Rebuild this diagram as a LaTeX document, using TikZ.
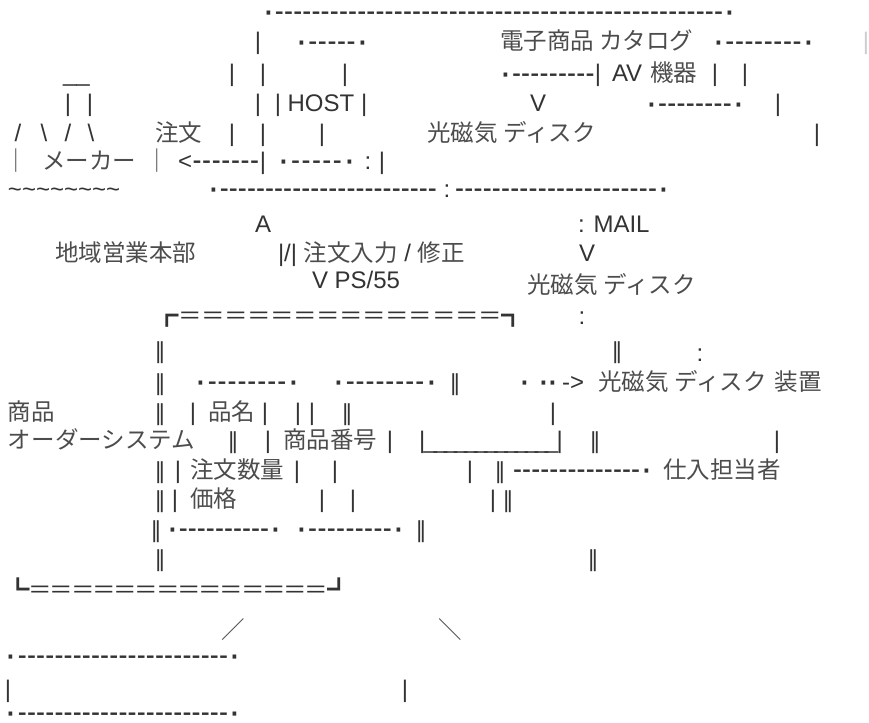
\documentclass[tikz,border=0pt]{standalone}
\usepackage{fontspec}
\setmainfont{Liberation Sans}
\newfontfamily\jp{Noto Sans CJK JP}
\newfontfamily\dv{DejaVu Sans}
\definecolor{ink}{gray}{0.2}
\definecolor{inkj}{gray}{0.3}
\newcommand\lat{\fontsize{24}{28}\selectfont}
\newcommand\jpf{\jp\fontsize{23.5}{28}\selectfont}
\newcommand\dvf{\dv\fontsize{22}{26}\selectfont}
\newcommand\dsh{\hbox to 9pt{\hss\raisebox{-1.8pt}{\scalebox{1.12}[1.3]{-}}\hss}}
\newcommand\dt{\raisebox{-3.2pt}{\scalebox{1.6}{·}}}
\newcommand\mydrun[1]{\hbox to #1pt{\dt\xleaders\dsh\hfill\dt}}
\newcommand\mylrun[1]{\hbox to #1pt{\xleaders\dsh\hfill\dt}}
\newcommand\myrrun[1]{\hbox to #1pt{\dt\xleaders\dsh\hfill}}
\newcommand\myarun[1]{\hbox to #1pt{<\xleaders\dsh\hfill|}}
\newcommand\mybrun[1]{\hbox to #1pt{\dt\xleaders\dsh\hfill|}}
\newcommand\myurun[1]{\hbox to #1pt{|\xleaders\hbox to 10pt{\hss\textunderscore\hss}\hfill|}}
\newcommand\myeqtop{\hbox to 370pt{┏\xleaders\hbox to 23pt{\hss＝\hss}\hfill┓}}
\newcommand\myeqbot{\hbox to 345pt{┗\xleaders\hbox to 21pt{\hss＝\hss}\hfill┛}}
\tikzset{
  tb/.style={inner sep=0pt, outer sep=0pt},
  L/.style={tb, anchor=base west, font=\lat, text=ink},
  Lc/.style={tb, anchor=base, font=\lat, text=ink},
  J/.style={tb, anchor=base west, font=\jpf, text=inkj},
  Jc/.style={tb, anchor=base, font=\jpf, text=inkj},
  D/.style={tb, anchor=base, font=\dvf, text=ink},
}
\begin{document}
\begin{tikzpicture}[x=1pt,y=-1pt]
\useasboundingbox (0,0) rectangle (869,722);
% row 1
\node[L] (r1) at (262,20) {\mydrun{474}};
% row 2
\node[Lc] (r2a) at (258,50) {|};
\node[L] (r2b) at (295,50) {\mydrun{74}};
\node[J] (r2c) at (500,50) {電子商品 カタログ};
\node[L] (r2d) at (712,50) {\mydrun{103}};
\node[Lc,text=black!20] (r2e) at (866,50) {|};
% row 3
\node[L] (r3a) at (63,82) {\textunderscore\textunderscore};
\node[Lc] (r3b) at (232,82) {|};
\node[Lc] (r3c) at (263,82) {|};
\node[Lc] (r3d) at (345,82) {|};
\node[L] (r3e) at (499,82) {\mybrun{102}};
\node[L] (r3f) at (612,82) {AV};
\node[J] (r3g) at (650,82) {機器};
\node[Lc] (r3h) at (715,82) {|};
\node[Lc] (r3i) at (745,82) {|};
% row 4
\node[Lc] (r4a) at (68,112) {|};
\node[Lc] (r4b) at (90,112) {|};
\node[Lc] (r4c) at (258,112) {|};
\node[Lc] (r4d) at (321,112) {| HOST |};
\node[Lc] (r4e) at (538,112) {V};
\node[L] (r4f) at (645,112) {\mydrun{100}};
\node[Lc] (r4g) at (778,112) {|};
% row 5
\node[Lc] (r5a1) at (18,142) {/};
\node[Lc] (r5a2) at (44,142) {\textbackslash};
\node[Lc] (r5a3) at (68,142) {/};
\node[Lc] (r5a4) at (91,142) {\textbackslash};
\node[J] (r5b) at (155,142) {注文};
\node[Lc] (r5c) at (232,142) {|};
\node[Lc] (r5d) at (263,142) {|};
\node[Lc] (r5e) at (322,142) {|};
\node[J] (r5f) at (427,142) {光磁気\hspace{6pt}ディスク};
\node[Lc] (r5g) at (817,142) {|};
% row 6
\node[Jc] (r6a) at (16,169) {｜};
\node[J] (r6b) at (42,169) {メーカー};
\node[Jc] (r6c) at (157,169) {｜};
\node[L] (r6d) at (178,169) {\myarun{88}};
\node[L] (r6e) at (277,169) {\mydrun{79}};
\node[Lc] (r6f) at (368,169) {:};
\node[Lc] (r6g) at (382,169) {|};
% row 7
\node[L] (r7a) at (8,197) {\textasciitilde\textasciitilde\textasciitilde\textasciitilde\textasciitilde\textasciitilde\textasciitilde\textasciitilde};
\node[L] (r7b) at (207,197) {\myrrun{230}};
\node[Lc] (r7c) at (447,197) {:};
\node[L] (r7d) at (455,197) {\mylrun{215}};
% row 8
\node[Lc] (r8a) at (263,232) {A};
\node[L] (r8b) at (578,232) {: MAIL};
% row 9
\node[J] (r9a) at (55,261) {地域営業本部};
\node[L] (r9b) at (278,261) {|/| {\jpf\color{inkj}注文入力} / {\jpf\color{inkj}修正}};
\node[Lc] (r9c) at (587,261) {V};
% row 10
\node[L] (r10a) at (312,288) {V PS/55};
\node[J] (r10b) at (527,293) {光磁気\hspace{6pt}ディスク};
% row 11
\node[J,text=ink] (r11a) at (155,324) {\myeqtop};
\node[Lc] (r11b) at (582,324) {:};
% row 12
\node[D] (r12a) at (160,358) {‖};
\node[D] (r12b) at (617,358) {‖};
\node[Lc] (r12c) at (700,361) {:};
% row 13
\node[D] (r13a) at (160,390) {‖};
\node[L] (r13b) at (194,390) {\mydrun{106}};
\node[L] (r13c) at (332,390) {\mydrun{106}};
\node[D] (r13d) at (455,390) {‖};
\node[L] (r13e) at (518,390) {\dt};
\node[L] (r13e2) at (537,390) {\dt\kern-3pt\dt};
\node[L] (r13f) at (562,390) {->};
\node[J] (r13g) at (598,390) {光磁気\hspace{6pt}ディスク\hspace{8pt}装置};
% row 14
\node[J] (r14a) at (8,420) {商品};
\node[D] (r14b) at (160,420) {‖};
\node[Lc] (r14c) at (193,420) {|};
\node[J] (r14d) at (208,420) {品名};
\node[Lc] (r14e) at (265,420) {|};
\node[Lc] (r14f) at (298,420) {|};
\node[Lc] (r14g) at (312,420) {|};
\node[D] (r14h) at (347,420) {‖};
\node[Lc] (r14i) at (553,420) {|};
% row 15
\node[J] (r15a) at (8,448) {オーダーシステム};
\node[D] (r15b) at (233,448) {‖};
\node[Lc] (r15c) at (268,448) {|};
\node[J] (r15d) at (283,448) {商品番号};
\node[Lc] (r15e) at (390,448) {|};
\node[L] (r15f) at (419,448) {\myurun{144}};
\node[D] (r15g) at (595,448) {‖};
\node[Lc] (r15h) at (777,448) {|};
% row 16
\node[D] (r16a) at (160,478) {‖};
\node[Lc] (r16b) at (178,478) {|};
\node[J] (r16c) at (190,478) {注文数量};
\node[Lc] (r16d) at (297,478) {|};
\node[Lc] (r16e) at (335,478) {|};
\node[Lc] (r16f) at (470,478) {|};
\node[D] (r16g) at (500,478) {‖};
\node[L] (r16h) at (513,478) {\mylrun{140}};
\node[J] (r16i) at (663,478) {仕入担当者};
% row 17
\node[D] (r17a) at (160,507) {‖};
\node[Lc] (r17b) at (175,507) {|};
\node[J] (r17c) at (190,507) {価格};
\node[Lc] (r17d) at (322,507) {|};
\node[Lc] (r17e) at (353,507) {|};
\node[Lc] (r17f) at (493,507) {|};
\node[D] (r17g) at (508,507) {‖};
% row 18
\node[D] (r18a) at (156,537) {‖};
\node[L] (r18b) at (166,537) {\mydrun{116}};
\node[L] (r18c) at (295,537) {\mydrun{110}};
\node[D] (r18d) at (421,537) {‖};
% row 19
\node[D] (r19a) at (160,566) {‖};
\node[D] (r19b) at (593,566) {‖};
% row 20
\node[J,text=ink] (r20a) at (6,598) {\myeqbot};
% row 21
\node[Jc] (r21a) at (233,638) {／};
\node[Jc] (r21b) at (450,638) {＼};
% row 22-24
\node[L] (r22a) at (5,664) {\mydrun{236}};
\node[Lc] (r23a) at (8,697) {|};
\node[Lc] (r23b) at (405,697) {|};
\node[L] (r24a) at (5,721) {\mydrun{236}};
\end{tikzpicture}
\end{document}
